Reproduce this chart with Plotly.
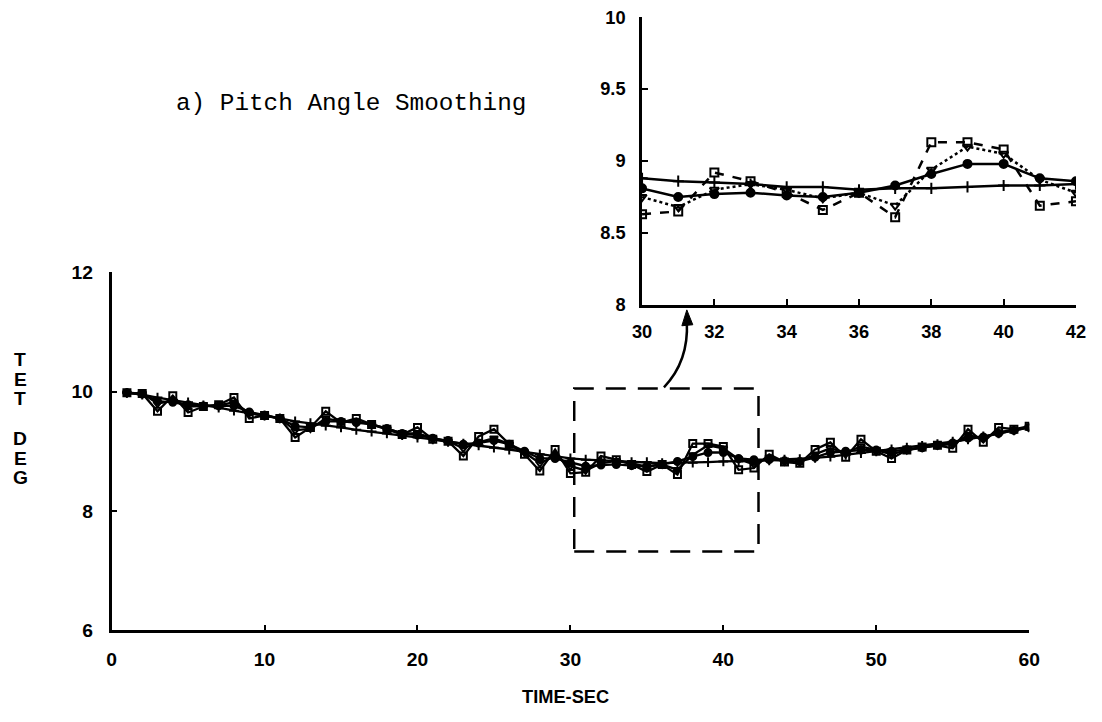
import plotly.graph_objects as go

# ---------------- data ----------------
time_sec = list(range(1, 61))

measured = [9.98, 9.97, 9.67, 9.93, 9.65, 9.75, 9.78, 9.90, 9.55, 9.60,
            9.55, 9.23, 9.40, 9.67, 9.48, 9.55, 9.45, 9.37, 9.28, 9.40,
            9.20, 9.17, 8.92, 9.25, 9.37, 9.12, 8.95, 8.67, 9.03, 8.63,
            8.65, 8.92, 8.86, 8.78, 8.66, 8.78, 8.61, 9.13, 9.13, 9.08,
            8.69, 8.72, 8.95, 8.82, 8.80, 9.03, 9.15, 8.90, 9.20, 9.00,
            8.88, 9.02, 9.07, 9.10, 9.05, 9.37, 9.15, 9.40, 9.37, 9.42]

filter_a = [9.98, 9.97, 9.80, 9.85, 9.75, 9.76, 9.77, 9.82, 9.64, 9.60,
            9.55, 9.35, 9.38, 9.55, 9.50, 9.50, 9.45, 9.38, 9.30, 9.30,
            9.22, 9.17, 9.05, 9.15, 9.22, 9.12, 8.98, 8.80, 8.92, 8.75,
            8.68, 8.80, 8.84, 8.80, 8.74, 8.78, 8.69, 8.94, 9.10, 9.05,
            8.87, 8.78, 8.90, 8.83, 8.82, 8.95, 9.05, 8.98, 9.08, 9.02,
            8.95, 9.02, 9.06, 9.10, 9.12, 9.27, 9.22, 9.32, 9.36, 9.41]

filter_b = [9.98, 9.96, 9.84, 9.82, 9.78, 9.76, 9.76, 9.76, 9.66, 9.60,
            9.55, 9.42, 9.40, 9.50, 9.50, 9.48, 9.45, 9.38, 9.30, 9.27,
            9.22, 9.18, 9.12, 9.14, 9.18, 9.12, 9.00, 8.88, 8.88, 8.81,
            8.75, 8.77, 8.78, 8.76, 8.75, 8.78, 8.83, 8.91, 8.98, 8.98,
            8.88, 8.86, 8.86, 8.84, 8.83, 8.90, 8.98, 9.00, 9.02, 9.02,
            9.00, 9.03, 9.06, 9.10, 9.14, 9.22, 9.24, 9.30, 9.35, 9.40]

smoothed = [9.98, 9.95, 9.90, 9.86, 9.82, 9.77, 9.73, 9.68, 9.64, 9.60,
            9.55, 9.50, 9.47, 9.43, 9.40, 9.36, 9.33, 9.30, 9.27, 9.23,
            9.20, 9.16, 9.13, 9.10, 9.06, 9.03, 8.99, 8.95, 8.92, 8.88,
            8.86, 8.85, 8.84, 8.82, 8.82, 8.80, 8.81, 8.81, 8.82, 8.83,
            8.83, 8.84, 8.85, 8.86, 8.87, 8.89, 8.91, 8.94, 8.97, 9.00,
            9.03, 9.06, 9.09, 9.12, 9.16, 9.20, 9.25, 9.30, 9.35, 9.40]

main_xticks = [0, 10, 20, 30, 40, 50, 60]
main_yticks = [6, 8, 10, 12]
inset_xticks = [30, 32, 34, 36, 38, 40, 42]
inset_yticks = [8, 8.5, 9, 9.5, 10]
inset_ytext = ["8", "8.5", "9", "9.5", "10"]
inset_window = (30, 42)

# zoom box (data coordinates of main axes)
box_x = (30.25, 42.3)
box_y = (7.32, 10.05)

# ---------------- figure ----------------
W, H = 1102, 722
# the page is photographed with an 8px body margin and scaled to fit
SX, SY, OFF = W / (W + 16), H / (H + 16), 8


def pg(x, y):
    """target screenshot pixel -> page pixel"""
    return x / SX - OFF, y / SY - OFF


def px(x, y):
    X, Y = pg(x, y)
    return X / W, 1 - Y / H


def fs(s):
    return s / SX


def xdom(a, b):
    return [pg(a, 0)[0] / W, pg(b, 0)[0] / W]


def ydom(top, bottom):
    return [1 - pg(0, bottom)[1] / H, 1 - pg(0, top)[1] / H]


series = [
    (measured, "square-open", "dash"),
    (filter_a, "triangle-down-open", "dot"),
    (filter_b, "circle", "solid"),
    (smoothed, "cross-thin", "solid"),
]

fig = go.Figure()

for vals, sym, dash in series:
    fig.add_trace(go.Scatter(
        x=time_sec, y=vals, mode="lines+markers",
        line=dict(color="black", width=2.3, dash="solid"),
        marker=dict(symbol=sym, size=7, color="black",
                    line=dict(color="black", width=2)),
        xaxis="x", yaxis="y", showlegend=False))

lo, hi = inset_window
idx = [i for i, t in enumerate(time_sec) if lo <= t <= hi]
for vals, sym, dash in series:
    fig.add_trace(go.Scatter(
        x=[time_sec[i] for i in idx], y=[vals[i] for i in idx],
        mode="lines+markers",
        line=dict(color="black", width=2.5, dash=dash),
        marker=dict(symbol=sym, size=8, color="black",
                    line=dict(color="black", width=2)),
        xaxis="x2", yaxis="y2", showlegend=False))

tickfont = dict(family="Liberation Sans, Arial", size=fs(19), color="black", weight="bold")
inset_tickfont = dict(family="Liberation Sans, Arial", size=fs(18), color="black", weight="bold")

axis_common = dict(showline=True, linecolor="black", linewidth=2.6,
                   ticks="inside", tickcolor="black", tickwidth=2, ticklen=6,
                   showgrid=False, zeroline=False, mirror=False)

fig.update_layout(
    width=W, height=H,
    margin=dict(l=0, r=0, t=0, b=0),
    paper_bgcolor="white", plot_bgcolor="rgba(0,0,0,0)",
    xaxis=dict(domain=xdom(110, 1032), range=[0, 60], tickvals=main_xticks,
               tickfont=tickfont, anchor="y", ticklabelstandoff=10, **axis_common),
    yaxis=dict(domain=ydom(272, 633), range=[6, 12], tickvals=main_yticks,
               tickfont=tickfont, anchor="x", ticklabelstandoff=12, **axis_common),
    xaxis2=dict(domain=xdom(643, 1079), range=[30, 42], tickvals=inset_xticks,
                tickfont=inset_tickfont, anchor="y2", ticklabelstandoff=8, **axis_common),
    yaxis2=dict(domain=ydom(15, 305), range=[8, 10], tickvals=inset_yticks,
                ticktext=inset_ytext, tickfont=inset_tickfont, anchor="x2",
                ticklabelstandoff=10, **axis_common),
)

# dashed zoom rectangle
fig.add_shape(type="rect", xref="x", yref="y",
              x0=box_x[0], x1=box_x[1], y0=box_y[0], y1=box_y[1],
              line=dict(color="black", width=2.5, dash="20px,12px"))

# curved arrow from box to inset
p0 = px(665, 388)
pc = px(690, 362)
p1 = px(688, 322)
fig.add_shape(type="path", xref="paper", yref="paper",
              path=f"M {p0[0]},{p0[1]} Q {pc[0]},{pc[1]} {p1[0]},{p1[1]}",
              line=dict(color="black", width=2.5))
t0 = px(688, 310)
b1 = px(683, 326)
b2 = px(694, 325)
fig.add_shape(type="path", xref="paper", yref="paper",
              path=f"M {t0[0]},{t0[1]} L {b1[0]},{b1[1]} L {b2[0]},{b2[1]} Z",
              fillcolor="black", line=dict(color="black", width=1))

# texts
tx, ty = px(351, 102)
fig.add_annotation(text="a) Pitch Angle Smoothing", x=tx, y=ty, xref="paper", yref="paper",
                   showarrow=False, xanchor="center", yanchor="middle",
                   font=dict(family="Liberation Mono, Courier New", size=fs(24), color="black"))

ylabel_letters = ["T", "E", "T", "D", "E", "G"]
ylabel_rows = [360, 380, 399, 440, 460, 479]
for ch, row in zip(ylabel_letters, ylabel_rows):
    lx, ly = px(18, row)
    fig.add_annotation(text=ch, x=lx, y=ly, xref="paper", yref="paper",
                       showarrow=False, xanchor="center", yanchor="middle",
                       font=dict(family="Liberation Sans Narrow, Liberation Sans, Arial", size=fs(19),
                                 color="black", weight="bold"))

xx, xy = px(566, 700)
fig.add_annotation(text="TIME-SEC", x=xx, y=xy, xref="paper", yref="paper",
                   showarrow=False, xanchor="center", yanchor="middle",
                   font=dict(family="Liberation Sans Narrow, Liberation Sans, Arial", size=fs(18),
                             color="black", weight="bold"))

fig.write_html("out.html")
